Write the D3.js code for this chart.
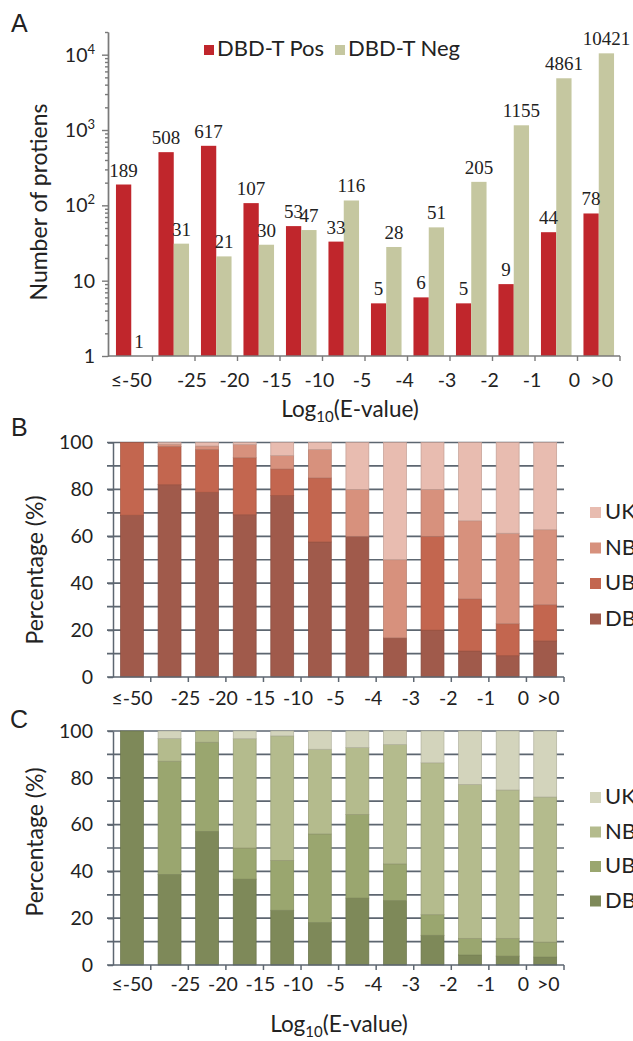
<!DOCTYPE html>
<html>
<head>
<meta charset="utf-8">
<script src="https://cdn.jsdelivr.net/npm/d3@7/dist/d3.min.js"></script>
<style>
  body { margin: 0; background: #fff; }
  svg text { font-family: Lato, "Open Sans", sans-serif; fill: #222; }
</style>
</head>
<body>
<svg id="chart" width="633" height="1041"></svg>
<script>
// categories = Log10(E-value) bins
const categories = ['≤-50', '-25', '-20', '-15', '-10', '-5', '-4', '-3', '-2', '-1', '0', '>0']

// panel A: number of proteins
const posCounts = [189, 508, 617, 107, 53, 33, 5, 6, 5, 9, 44, 78]
const negCounts = [1, 31, 21, 30, 47, 116, 28, 51, 205, 1155, 4861, 10421]
const seriesA = ['DBD-T Pos', 'DBD-T Neg']

// panels B and C: percentage per class (bottom to top)
const classes = ['DB', 'UB', 'NB', 'UK']
const posDB = [69, 82, 78.8, 69.2, 77.4, 57.6, 60, 16.7, 20, 11.1, 9.1, 15.4]
const posUB = [31, 16.3, 18.2, 24.3, 11.3, 27.3, 0, 0, 40, 22.2, 13.6, 15.4]
const posNB = [0, 1, 1.5, 5.6, 5.7, 12.1, 20, 33.3, 20, 33.3, 38.6, 32]
const posUK = [0, 0.7, 1.5, 0.9, 5.6, 3, 20, 50, 20, 33.4, 38.7, 37.2]

const negDB = [100, 38.7, 57.1, 36.7, 23.4, 18.1, 28.6, 27.5, 12.7, 4.3, 3.8, 3.4]
const negUB = [0, 48.4, 38.1, 13.3, 21.3, 37.9, 35.7, 15.7, 8.8, 7.1, 7.6, 6.4]
const negNB = [0, 9.7, 4.8, 46.7, 53.2, 36.2, 28.6, 51, 64.9, 65.8, 63.4, 62]
const negUK = [0, 3.2, 0, 3.3, 2.1, 7.8, 7.1, 5.9, 13.6, 22.8, 25.2, 28.2]

const pctTicks = [0, 20, 40, 60, 80, 100]

const colorsA = {'DBD-T Pos': '#c0262c', 'DBD-T Neg': '#c5c7a0'}
const colorsB = {DB: '#a05a4b', UB: '#c3664f', NB: '#d7917d', UK: '#e8bcb0'}
const colorsC = {DB: '#7e8959', UB: '#9aa66f', NB: '#b4bb8d', UK: '#d3d4bc'}

const svg = d3.select('#chart')
const axisColor = '#7a7a7a'
const gridColor = '#5d6670'

function panelLetter(txt, x, y) {
  svg.append('text').attr('x', x).attr('y', y)
    .style('font-family', '"Liberation Sans", Arial, sans-serif')
    .style('font-size', '25px').text(txt)
}

function logTitle(cx, y) {
  const t = svg.append('text').attr('x', cx).attr('y', y)
    .attr('text-anchor', 'middle').style('font-size', '22.5px')
  t.append('tspan').text('Log')
  t.append('tspan').attr('dy', 5).style('font-size', '15px').text('10')
  t.append('tspan').attr('dy', -5).text('(E-value)')
}

function tickLabelX(x, c, i) {
  const center = x(c) + x.bandwidth() / 2
  if (i === 0) return center
  if (i === categories.length - 1) return center + 3
  return center + x.step() / 2 - 3
}

/* ---------- PANEL A ---------- */
panelLetter('A', 11, 32)

const xA = d3.scaleBand().domain(categories).range([110, 620])
const xSubA = d3.scaleBand().domain(seriesA).range([0, xA.bandwidth()]).paddingOuter(0.39)
const yA = d3.scaleLog().domain([1, 20000]).range([356, 32])

const tableA = categories.map((c, i) => ({cat: c, values: [posCounts[i], negCounts[i]]}))

const gA = svg.append('g')

const groupsA = gA.selectAll('g.grp').data(tableA).join('g')
  .attr('class', 'grp')
  .attr('transform', d => `translate(${xA(d.cat)},0)`)

groupsA.selectAll('rect')
  .data(d => seriesA.map((s, j) => ({key: s, value: d.values[j]})))
  .join('rect')
  .attr('x', d => xSubA(d.key))
  .attr('width', xSubA.bandwidth())
  .attr('y', d => yA(d.value))
  .attr('height', d => yA(1) - yA(d.value))
  .attr('fill', d => colorsA[d.key])

groupsA.selectAll('text')
  .data(d => seriesA.map((s, j) => ({key: s, value: d.values[j]})))
  .join('text')
  .attr('x', d => xSubA(d.key) + xSubA.bandwidth() / 2)
  .attr('y', d => yA(d.value) - 8)
  .attr('text-anchor', 'middle')
  .style('font-family', '"Liberation Serif", "Times New Roman", serif')
  .style('font-size', '19px')
  .text(d => d.value)

// y axis (log) with minor ticks
const majorA = [1, 10, 100, 1000, 10000]
const minorA = yA.ticks().filter(v => !majorA.includes(v))

const yAxisA = gA.append('g').attr('transform', 'translate(108,0)')
yAxisA.call(d3.axisLeft(yA).tickValues(minorA).tickSize(3).tickFormat('').tickSizeOuter(0))
yAxisA.append('g').call(d3.axisLeft(yA).tickValues(majorA).tickSize(6).tickFormat('').tickSizeOuter(0))
yAxisA.selectAll('path, line').attr('stroke', axisColor).attr('stroke-width', 1.4)

majorA.forEach(v => {
  const exp = Math.round(Math.log10(v))
  const t = gA.append('text').attr('x', 95).attr('y', yA(v) + 7)
    .attr('text-anchor', 'end').style('font-size', '19.5px')
  if (exp < 2) {
    t.text(v)
  } else {
    t.append('tspan').text('10')
    t.append('tspan').attr('dy', -8).style('font-size', '13px').text(exp)
  }
})

// x axis
const xAxisA = gA.append('g').attr('transform', 'translate(0,356)')
xAxisA.append('line').attr('x1', 108).attr('x2', 620).attr('stroke', axisColor).attr('stroke-width', 1.4)
xAxisA.selectAll('line.tick')
  .data(categories.slice(1).map(c => xA(c)).concat([xA.range()[1]]))
  .join('line').attr('class', 'tick')
  .attr('x1', d => d).attr('x2', d => d).attr('y1', 0).attr('y2', 5)
  .attr('stroke', axisColor).attr('stroke-width', 1.4)
xAxisA.selectAll('text')
  .data(categories).join('text')
  .attr('x', (c, i) => tickLabelX(xA, c, i))
  .attr('y', 31)
  .attr('text-anchor', 'middle')
  .style('font-size', '19.5px')
  .text(d => d)

svg.append('text')
  .attr('transform', 'translate(47,202) rotate(-90)')
  .attr('text-anchor', 'middle').style('font-size', '23px')
  .text('Number of protiens')

logTitle(350, 417)

// legend A
const legA = svg.append('g')
const legAx = [204, 335]
seriesA.forEach((s, i) => {
  legA.append('rect').attr('x', legAx[i]).attr('y', 45).attr('width', 10).attr('height', 10).attr('fill', colorsA[s])
  legA.append('text').attr('x', legAx[i] + 13).attr('y', 56).style('font-size', '22px').text(s)
})

/* ---------- PANELS B & C ---------- */
function stackedPanel(opts) {
  const x = d3.scaleBand().domain(categories).range([113.2, 564]).paddingInner(0.39).paddingOuter(0.195)
  const y = d3.scaleLinear().domain([0, 100]).range(opts.yRange)
  const table = categories.map((c, i) => {
    const row = {cat: c}
    classes.forEach((k, j) => { row[k] = opts.values[j][i] })
    return row
  })
  const stacked = d3.stack().keys(classes)(table)
  const g = svg.append('g')

  // gridlines every 10%
  g.selectAll('line.grid').data(d3.range(10, 101, 10)).join('line')
    .attr('class', 'grid')
    .attr('x1', 107).attr('x2', 564)
    .attr('y1', d => y(d)).attr('y2', d => y(d))
    .attr('stroke', gridColor).attr('stroke-width', 1.7)

  g.selectAll('g.layer').data(stacked).join('g')
    .attr('class', 'layer')
    .attr('fill', d => opts.colors[d.key])
    .attr('stroke', d => d3.color(opts.colors[d.key]).darker(0.5))
    .attr('stroke-width', 0.7)
    .selectAll('rect').data(d => d.filter(p => p[1] - p[0] > 0)).join('rect')
    .attr('x', d => x(d.data.cat))
    .attr('width', x.bandwidth())
    .attr('y', d => y(d[1]))
    .attr('height', d => y(d[0]) - y(d[1]))

  // y axis
  const yAxis = g.append('g').attr('transform', 'translate(113,0)')
    .call(d3.axisLeft(y).tickValues(pctTicks).tickSize(5).tickSizeOuter(0).tickPadding(15))
  yAxis.selectAll('path, line').attr('stroke', gridColor).attr('stroke-width', 1.5)
  yAxis.selectAll('text').style('font-size', '19.5px').style('font-family', 'Lato, sans-serif').attr('fill', '#222')

  // x axis
  const base = y(0)
  const xAxis = g.append('g').attr('transform', `translate(0,${base})`)
  xAxis.append('line').attr('x1', 107).attr('x2', 564).attr('stroke', gridColor).attr('stroke-width', 1.7)
  xAxis.selectAll('line.tick')
    .data(categories.map(c => x(c) + x.bandwidth() / 2 + x.step() / 2))
    .join('line').attr('class', 'tick')
    .attr('x1', d => d).attr('x2', d => d).attr('y1', 0).attr('y2', 5)
    .attr('stroke', gridColor).attr('stroke-width', 1.5)
  xAxis.selectAll('text')
    .data(categories).join('text')
    .attr('x', (c, i) => tickLabelX(x, c, i))
    .attr('y', opts.labelDy)
    .attr('text-anchor', 'middle')
    .style('font-size', '19.5px')
    .text(d => d)

  svg.append('text')
    .attr('transform', `translate(43,${opts.titleY}) rotate(-90)`)
    .attr('text-anchor', 'middle').style('font-size', '23px')
    .text('Percentage (%)')

  // legend, top entry is the last class
  const legend = svg.append('g')
  classes.slice().reverse().forEach((k, i) => {
    const ly = opts.legendTop + i * opts.legendStep
    legend.append('rect').attr('x', 590).attr('y', ly).attr('width', 11).attr('height', 11).attr('fill', opts.colors[k])
    legend.append('text').attr('x', 605).attr('y', ly + 12).style('font-size', '22px').text(k)
  })
}

panelLetter('B', 11, 436)
stackedPanel({
  values: [posDB, posUB, posNB, posUK],
  colors: colorsB,
  yRange: [677, 442.5],
  titleY: 570,
  labelDy: 28,
  legendTop: 507,
  legendStep: 35.5
})

panelLetter('C', 10, 728)
stackedPanel({
  values: [negDB, negUB, negNB, negUK],
  colors: colorsC,
  yRange: [965, 731],
  titleY: 842,
  labelDy: 26,
  legendTop: 792,
  legendStep: 34.5
})

logTitle(339, 1032)
</script>
</body>
</html>
